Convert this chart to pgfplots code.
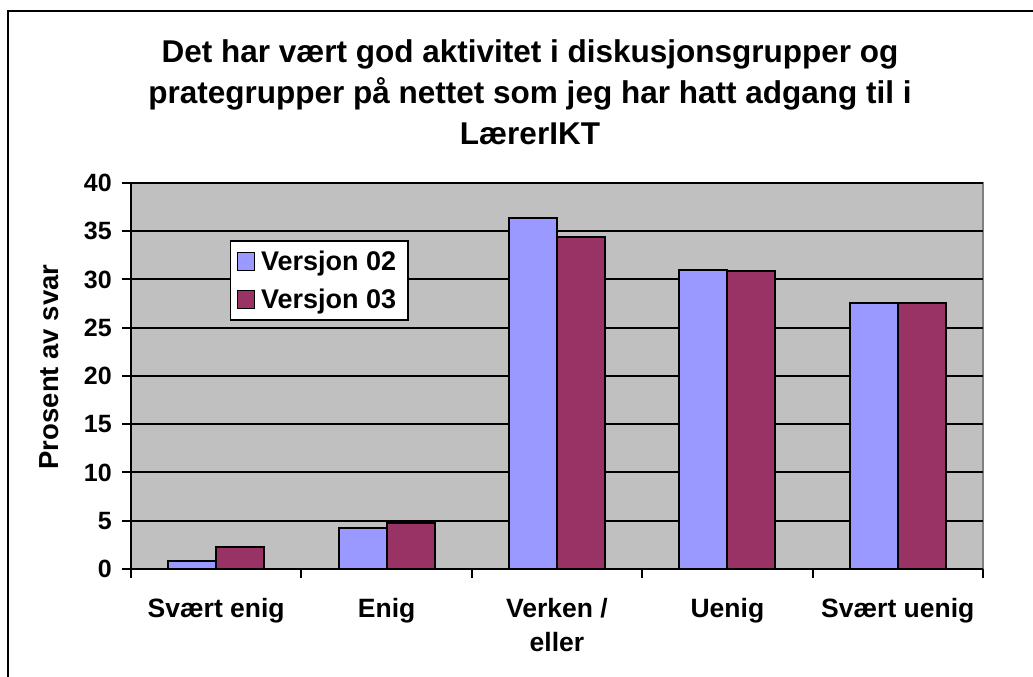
\documentclass[border=0pt]{standalone}
\usepackage{fontspec}
\setmainfont{Liberation Sans}
\usepackage{pgfplots}
\pgfplotsset{compat=1.18}
\definecolor{barA}{HTML}{9999FF}
\definecolor{barB}{HTML}{993366}
\definecolor{plotbg}{HTML}{C0C0C0}
\begin{document}
\begin{tikzpicture}[x=1pt,y=1pt]
\path[use as bounding box] (0,0) rectangle (1033,677);
\draw[line width=2pt] (8,0) -- (8,666) -- (1033,666);
\node[anchor=base, font=\fontsize{31.5}{34}\selectfont\bfseries, inner sep=0pt] at (530,614) {Det har vært god aktivitet i diskusjonsgrupper og};
\node[anchor=base, font=\fontsize{31.5}{34}\selectfont\bfseries, inner sep=0pt] at (530,573) {prategrupper på nettet som jeg har hatt adgang til i};
\node[anchor=base, font=\fontsize{31.5}{34}\selectfont\bfseries, inner sep=0pt] at (530,532) {LærerIKT};
\node[rotate=90, font=\fontsize{27.5}{30}\selectfont\bfseries, inner sep=0pt] at (49,310) {Prosent av svar};
\begin{axis}[
  at={(131pt,108pt)}, anchor=south west,
  width=852pt, height=386pt, scale only axis,
  ymin=0, ymax=40, xmin=-0.5, xmax=4.5,
  ytick={0,5,...,40},
  xtick={-0.5,0.5,...,4.5},
  x tick label as interval,
  xticklabels={Svært enig, Enig, {Verken /\\eller}, Uenig, Svært uenig},
  axis x line*=bottom, axis y line*=left,
  axis line style={black, line width=2pt},
  tick align=outside,
  major tick length=9pt,
  tick style={black, line width=2pt},
  ymajorgrids,
  major grid style={black, line width=2pt},
  axis background/.style={fill=plotbg, draw=gray, line width=1.5pt},
  /pgf/number format/assume math mode=true,
  yticklabel style={font=\fontsize{25}{28}\selectfont\bfseries, inner sep=0pt, xshift=-10pt},
  xticklabel style={font=\fontsize{26.5}{34}\selectfont\bfseries, align=center, inner sep=0pt, anchor=north, yshift=-20pt},
  legend style={at={(0.116,0.852)}, anchor=north west, draw=black, line width=1.5pt, fill=white,
    font=\fontsize{27}{30}\selectfont\bfseries, row sep=13pt, inner xsep=6pt, inner ysep=8pt,
    cells={anchor=west}, nodes={inner xsep=6pt}},
  legend image code/.code={\draw[#1, line width=1.5pt] (0pt,-9pt) rectangle (17pt,9pt);},
]
\addplot[ybar, bar width=0.282, bar shift=-0.141, fill=barA, draw=black, line width=2pt]
  coordinates {(0,0.8) (1,4.3) (2,36.4) (3,31.0) (4,27.6)};
\addplot[ybar, bar width=0.282, bar shift=0.141, fill=barB, draw=black, line width=2pt]
  coordinates {(0,2.3) (1,4.8) (2,34.4) (3,30.9) (4,27.6)};
\legend{Versjon 02, Versjon 03}
\end{axis}
\end{tikzpicture}
\end{document}
